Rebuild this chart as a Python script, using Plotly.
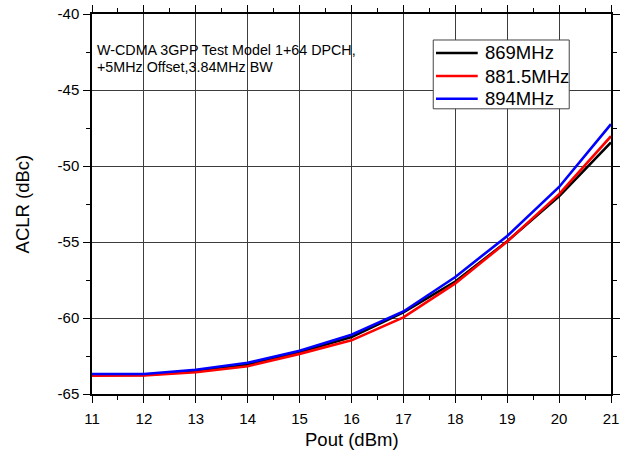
import plotly.graph_objects as go

# Output power sweep (dBm)
pout = [11, 12, 13, 14, 15, 16, 17, 18, 19, 20, 21]

# Adjacent channel leakage ratio (dBc) per carrier frequency
aclr_869 = [-63.75, -63.75, -63.50, -63.08, -62.25, -61.25, -59.63, -57.60, -54.95, -52.00, -48.45]
aclr_881_5 = [-63.80, -63.78, -63.57, -63.17, -62.36, -61.47, -59.96, -57.72, -54.97, -51.85, -48.04]
aclr_894 = [-63.68, -63.68, -63.40, -62.95, -62.15, -61.10, -59.57, -57.30, -54.60, -51.38, -47.25]

series_names = ["869MHz", "881.5MHz", "894MHz"]
series_colors = ["#000000", "#ff0000", "#0000ff"]

x_ticks = list(range(11, 22))
y_ticks = [-65, -60, -55, -50, -45, -40]

note_lines = ["W-CDMA 3GPP Test Model 1+64 DPCH,", "+5MHz Offset,3.84MHz BW"]

FONT = "Arial, Liberation Sans, sans-serif"

fig = go.Figure()
for name, ys, col in zip(series_names, [aclr_869, aclr_881_5, aclr_894], series_colors):
    fig.add_trace(go.Scatter(
        x=pout, y=ys, mode="lines", name=name, showlegend=False,
        line=dict(color=col, width=2.6),
    ))

axis_common = dict(
    showline=True, linecolor="#000000", linewidth=1.5,
    mirror="allticks", ticks="outside", ticklen=7, tickwidth=1.3, tickcolor="#000000",
    showgrid=True, gridcolor="#3c3c3c", gridwidth=1,
    zeroline=False, automargin=False,
    tickfont=dict(family=FONT, size=15, color="#000000"),
)

fig.update_xaxes(
    range=[11, 21], tickvals=x_ticks, ticktext=[str(v) for v in x_ticks],
    ticklabelstandoff=3,
    minor=dict(dtick=0.5, ticks="outside", ticklen=4, tickcolor="#000000", showgrid=False),
    **axis_common,
)
fig.update_yaxes(
    range=[-65, -40], tickvals=y_ticks, ticktext=[str(v) for v in y_ticks],
    ticklabelstandoff=1,
    minor=dict(dtick=2.5, ticks="outside", ticklen=4, tickcolor="#000000", showgrid=False),
    **axis_common,
)

# Axis titles
fig.add_annotation(text="Pout (dBm)", xref="paper", yref="paper",
                   x=0.5, y=-0.119, xanchor="center", yanchor="middle",
                   showarrow=False, font=dict(family=FONT, size=18.5, color="#000000"))
fig.add_annotation(text="ACLR (dBc)", xref="paper", yref="paper",
                   x=-0.134, y=0.5, xanchor="center", yanchor="middle", textangle=-90,
                   showarrow=False, font=dict(family=FONT, size=18.5, color="#000000"))

for i, line in enumerate(note_lines):
    fig.add_annotation(
        text=line, xref="paper", yref="paper",
        x=0.006, y=0.932 - i * 0.0455, xanchor="left", yanchor="top",
        showarrow=False, font=dict(family=FONT, size=14.3, color="#000000"),
    )

# Boxed key in the upper right of the plot area
fig.add_shape(type="rect", xref="paper", yref="paper",
              x0=0.6575, x1=0.9195, y0=0.7505, y1=0.9316,
              line=dict(color="#444444", width=1), fillcolor="#ffffff", layer="above")
key_rows = [0.8974, 0.8368, 0.7771]
for name, col, yk in zip(series_names, series_colors, key_rows):
    fig.add_shape(type="line", xref="paper", yref="paper",
                  x0=0.6628, x1=0.7432, y0=yk, y1=yk,
                  line=dict(color=col, width=2.6), layer="above")
    fig.add_annotation(text=name, xref="paper", yref="paper",
                       x=0.7530, y=yk, xanchor="left", yanchor="middle",
                       showarrow=False,
                       font=dict(family=FONT, size=18.5, color="#000000"))

fig.update_layout(
    width=627, height=455,
    margin=dict(l=92, r=16, t=14, b=61),
    paper_bgcolor="#ffffff", plot_bgcolor="#ffffff",
    showlegend=False,
)

fig.write_html("out.html")
